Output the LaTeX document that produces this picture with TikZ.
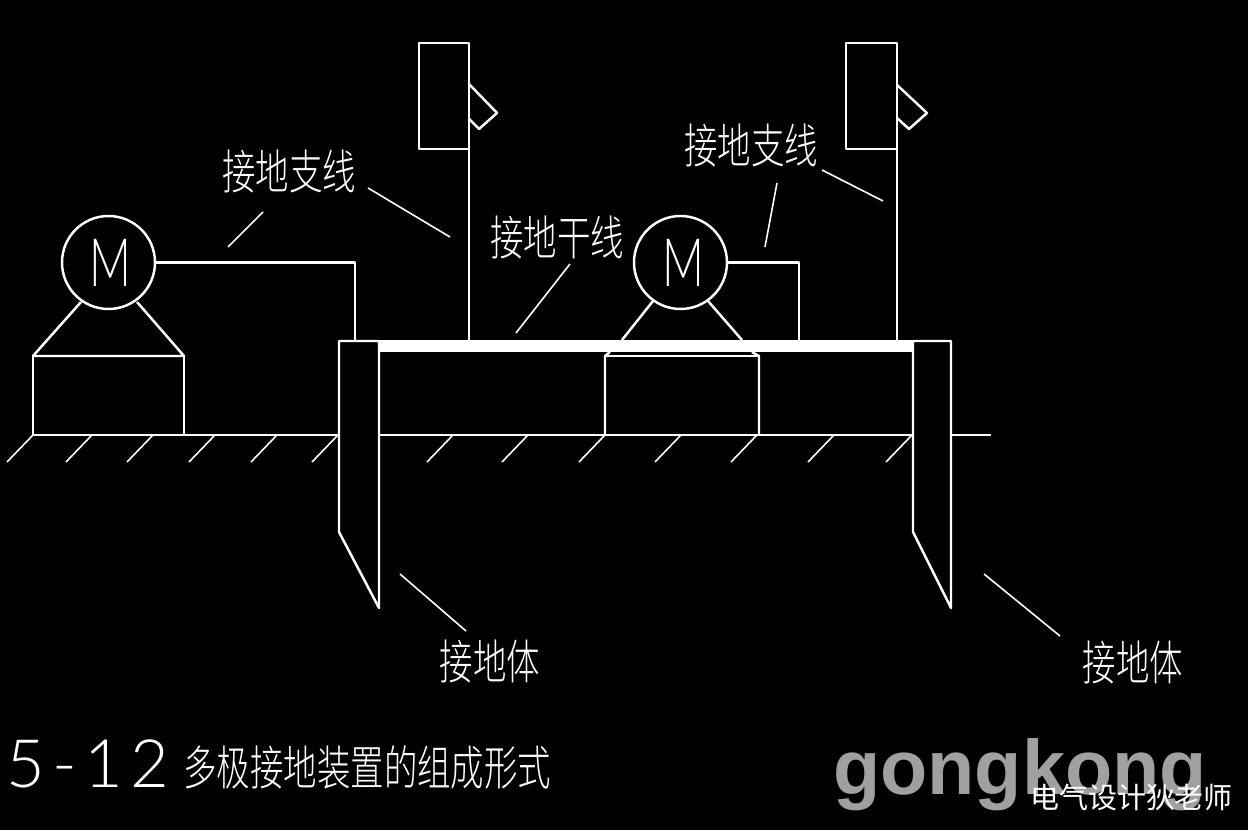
\documentclass[tikz,border=0pt]{standalone}
\usepackage{fontspec}
\setmainfont{Lato Light}
\newfontfamily\cjkfont{Noto Sans CJK SC}
\newfontfamily\cadfont[FakeStretch=0.705]{Noto Sans CJK SC Light}
\newfontfamily\motorfont[FakeStretch=0.69]{Lato Light}
\newfontfamily\logofont{Liberation Sans}[BoldFont={Liberation Sans Bold}]
\tikzset{
    wire/.style={draw=white, line width=1.4pt, line join=round},
    hatchline/.style={draw=white, line width=0.9pt},
    label/.style={text=white, font=\cadfont\fontsize{27}{27}\selectfont, inner sep=0pt},
    motor/.style={circle, draw=white, line width=1.4pt, minimum size=93*0.02cm, inner sep=0pt, text=white, font=\motorfont\fontsize{38}{38}\selectfont},
}
\begin{document}
\begin{tikzpicture}[x=0.02cm, y=-0.02cm]
    \fill[black] (0, 0) rectangle (1248, 830);
    \useasboundingbox (0, 0) rectangle (1248, 830);
    % ground and earth bus
    \draw[wire] (33, 435) -- (339, 435); \draw[wire] (379, 435) -- (913, 435); \draw[wire] (951, 435) -- (991, 435);
    \fill[white] (379, 340) rectangle (913, 352);
    % hatching
    \foreach \hx in {33, 92, 153, 215, 277, 338, 453, 528, 605, 681, 757, 834, 912} {
        \draw[hatchline] (\hx, 435) -- (\hx - 26, 462);
    }
    % earth rods
    \draw[wire] (379, 341) -- (339, 341) -- (339, 532) -- (379, 608) -- cycle;
    \draw[wire] (951, 341) -- (913, 341) -- (913, 532) -- (951, 608) -- cycle;
    % motors
    \node[motor] (motorA) at (108.5, 262.5) {\hspace{2.3pt}M};
    \node[motor] (motorB) at (680.5, 262.5) {\hspace{3pt}M};
    \draw[wire] (81, 302) -- (33, 356) -- (184, 356) -- (137, 302);
    \draw[wire] (33, 356) -- (33, 435); \draw[wire] (184, 356) -- (184, 435);
    \draw[wire] (653, 301) -- (622, 340); \draw[wire] (708, 301) -- (742, 340);
    \draw[wire] (610, 352) -- (605, 356) -- (605, 435); \draw[wire] (752, 352) -- (759, 356) -- (759, 435);
    \draw[wire] (605, 356) -- (759, 356);
    \draw[wire] (motorA.east) -- (355, 262.5) -- (355, 341);
    \draw[wire] (motorB.east) -- (799, 262.5) -- (799, 341);
    % lamps
    \draw[wire] (469, 340) -- (469, 149) -- (419, 149) -- (419, 43) -- (469, 43) -- (469, 149);
    \draw[wire] (469, 84) -- (497, 113) -- (479, 129) -- (469, 119);
    \draw[wire] (897, 340) -- (897, 149) -- (846, 149) -- (846, 43) -- (897, 43) -- (897, 149);
    \draw[wire] (897, 85) -- (927, 113) -- (909, 129) -- (897, 118);
    % leaders
    \draw[hatchline] (228, 247) -- (263, 212);
    \draw[hatchline] (368, 188) -- (450, 237);
    \draw[hatchline] (516, 333) -- (570, 264);
    \draw[hatchline] (765, 247) -- (777, 183);
    \draw[hatchline] (822, 170) -- (883, 201);
    \draw[hatchline] (400, 574) -- (466, 631);
    \draw[hatchline] (984, 574) -- (1060, 636);
    % labels
    \node[label] (branchA) at (289, 172) {接地支线};
    \node[label] (branchB) at (751, 146) {接地支线};
    \node[label] (trunk) at (557, 238) {接地干线};
    \node[label] (rodA) at (490, 662) {接地体};
    \node[label] (rodB) at (1133, 663) {接地体};
    \node[text=white, inner sep=0pt, font=\addfontfeature{LetterSpace=11}\fontsize{38}{38}\selectfont, anchor=west] (number) at (6, 764) {5-12};
    \node[label, anchor=west] (caption) at (183, 767) {多极接地装置的组成形式};
    \node[text={rgb,255:red,160;green,160;blue,160}, inner sep=0pt, font=\logofont\bfseries\fontsize{44}{44}\selectfont, anchor=base] (logo) at (1020, 795) {gongkong};
    \node[text=white, inner sep=0pt, font=\cjkfont\fontsize{16.5}{16.5}\selectfont] (credit) at (1131.5, 797) {电气设计狄老师};
\end{tikzpicture}
\end{document}
